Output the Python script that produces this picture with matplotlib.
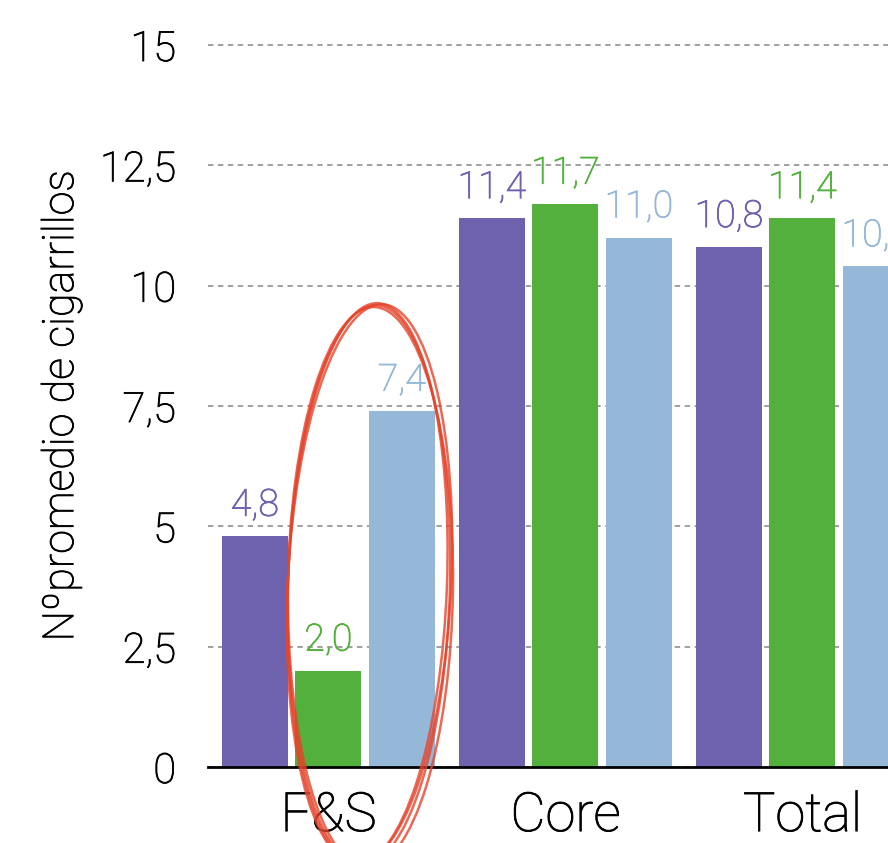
import matplotlib
matplotlib.use('Agg')
import numpy as np
import matplotlib.pyplot as plt
import matplotlib.patheffects as pe
from matplotlib.patches import Ellipse
from matplotlib.transforms import IdentityTransform

# datos
grupos = ['F&S', 'Core', 'Total']
serie_morada = [4.8, 11.4, 10.8]
serie_verde = [2.0, 11.7, 11.4]
serie_azul = [7.4, 11.0, 10.4]
ticks_y = [0, 2.5, 5, 7.5, 10, 12.5, 15]
etiquetas_y = ['0', '2,5', '5', '7,5', '10', '12,5', '15']

colores = ['#6E61AE', '#53B03C', '#95B8D9']

plt.rcParams['font.family'] = ['Roboto', 'DejaVu Sans']
plt.rcParams['font.weight'] = 'light'
plt.rcParams['axes.labelweight'] = 'light'

# un poco mas de grosor a la letra light
grosor = [pe.Stroke(linewidth=0.6), pe.Normal()]


def formato(v):
    return ('%.1f' % v).replace('.', ',')


def dibujar_barras(ax, x, valores, color):
    barras = ax.bar(x, valores, width=0.278, color=color, zorder=3)
    for b, v in zip(barras, valores):
        ax.annotate(formato(v), (b.get_x() + b.get_width() / 2, v),
                    xytext=(0, 14.5), textcoords='offset points',
                    ha='center', va='baseline', fontsize=27,
                    color=color, fontweight='light', zorder=4,
                    annotation_clip=False, path_effects=grosor)


fig = plt.figure(figsize=(8.88, 8.43), dpi=100)
ax = fig.add_axes([208 / 888, 76 / 843, 680 / 888, 736.4 / 843])

x = np.arange(len(grupos))
dibujar_barras(ax, x - 0.31, serie_morada, colores[0])
dibujar_barras(ax, x, serie_verde, colores[1])
dibujar_barras(ax, x + 0.31, serie_azul, colores[2])

ax.set_xlim(-0.508, 2.361)
ax.set_ylim(0, 15.3)
ax.set_yticks(ticks_y)
ax.set_yticklabels(etiquetas_y)
ax.set_xticks(x)
ax.set_xticklabels(grupos)
ax.tick_params(axis='y', length=0, pad=23, labelsize=30)
ax.tick_params(axis='x', length=0, pad=17, labelsize=39)
for t in ax.get_xticklabels() + ax.get_yticklabels():
    t.set_path_effects(grosor)

for s in ['top', 'right', 'left']:
    ax.spines[s].set_visible(False)
ax.spines['bottom'].set_linewidth(2)
ax.spines['bottom'].set_color('black')
ax.spines['bottom'].set_zorder(5)

ax.yaxis.grid(True, linestyle=(0, (3, 2.5)), color='#999999', linewidth=1.3, zorder=0)
ax.set_axisbelow(True)

ax.set_ylabel('Nºpromedio de cigarrillos', fontsize=31, path_effects=grosor)
ax.yaxis.set_label_coords(-0.185, 0.49)

# circulo rojo dibujado a mano
trazos = [(0, 0, 0, 0), (1.5, -2, 3, 0.8), (-1.5, 2, -3, -0.6), (0.5, 1, 1.5, -1.2)]
for dx, dy, dw, da in trazos:
    e = Ellipse((369 + dx, 843 - 585 + dy), 162 + dw, 560, angle=-1.5 + da,
                transform=IdentityTransform(), fill=False,
                edgecolor='#E5442B', linewidth=1.8, alpha=0.8, zorder=10)
    fig.patches.append(e)

plt.savefig('out.png', dpi=100)
